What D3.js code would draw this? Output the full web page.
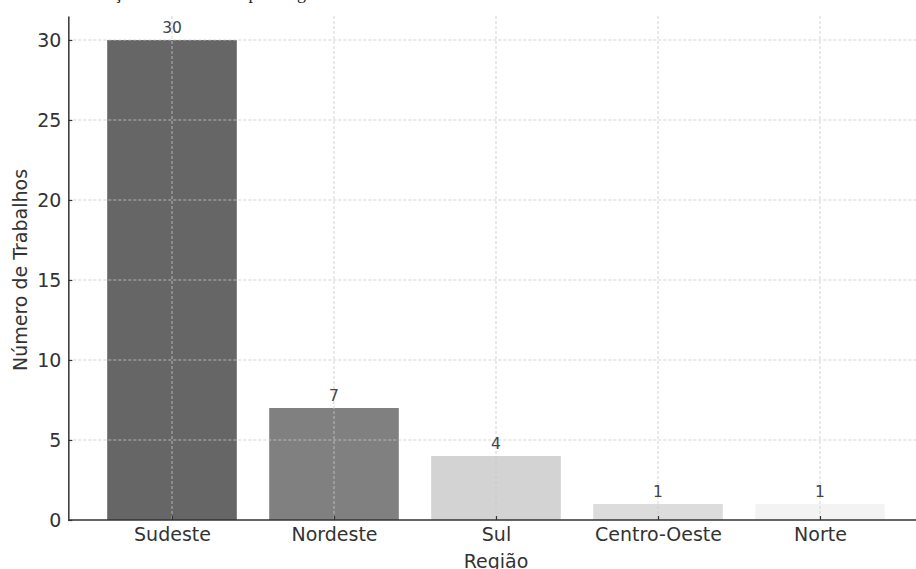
<!DOCTYPE html>
<html><head><meta charset="utf-8">
<script src="https://cdn.jsdelivr.net/npm/d3@7"></script>
<style>body{margin:0;background:#fff}svg{display:block}</style>
</head><body>
<svg id="c" width="916" height="569"></svg>
<script>
const categories = ["Sudeste","Nordeste","Sul","Centro-Oeste","Norte"];
const values = [30, 7, 4, 1, 1];
const barColors = ["#666666","#808080","#d3d3d3","#dcdcdc","#f3f3f3"];
const yTicks = [0,5,10,15,20,25,30];
const title = "Distribuição dos Trabalhos por Região";
const xLabel = "Região";
const yLabel = "Número de Trabalhos";

const svg = d3.select("#c");
const x0 = 172, step = 162;
const x = d3.scaleLinear().domain([-0.64, 4.64]).range([x0 - 0.64*step, x0 + 4.64*step]);
const y = d3.scaleLinear().domain([0, 31.5]).range([520, 16]);
const bw = 0.8*step;

// title (mostly cut off at top, as in the reference)
svg.append("text").attr("x", 50).attr("y", -1)
  .attr("font-family","Liberation Serif").attr("font-size",18).attr("fill","#222")
  .text(title);

// bars
svg.append("g").selectAll("rect").data(values).join("rect")
  .attr("x",(d,i)=>x(i)-bw/2).attr("width",bw)
  .attr("y",d=>y(d)).attr("height",d=>y(0)-y(d))
  .attr("fill",(d,i)=>barColors[i]);

// grid
const grid = svg.append("g").attr("stroke","#c8c8c8").attr("stroke-dasharray","3,2").attr("stroke-width",0.8);
grid.selectAll("line.h").data(yTicks.slice(1)).join("line").attr("class","h")
  .attr("x1",x(-0.64)).attr("x2",916).attr("y1",d=>y(d)).attr("y2",d=>y(d));
grid.selectAll("line.v").data(categories).join("line").attr("class","v")
  .attr("x1",(d,i)=>x(i)).attr("x2",(d,i)=>x(i)).attr("y1",y(31.5)).attr("y2",y(0));

// axes
const yAxis = svg.append("g").attr("transform",`translate(${x(-0.64)},0)`)
  .call(d3.axisLeft(y).tickValues(yTicks).tickSizeInner(-4).tickSizeOuter(0).tickPadding(7));
const xAxis = svg.append("g").attr("transform",`translate(0,${y(0)})`)
  .call(d3.axisBottom(x).tickValues(d3.range(categories.length)).tickFormat(i=>categories[i]).tickSizeInner(-4).tickSizeOuter(0).tickPadding(8));
xAxis.select(".domain").attr("d",`M${x(-0.64)},0H${x(4.64)}`);
[yAxis,xAxis].forEach(a=>{
  a.select(".domain").attr("stroke","#333").attr("stroke-width",1.5);
  a.selectAll(".tick line").attr("stroke","#333").attr("stroke-width",1.2);
  a.selectAll(".tick text").attr("font-family","DejaVu Sans").attr("font-size",19).attr("fill","#333");
});

// value labels
svg.append("g").selectAll("text").data(values).join("text")
  .attr("x",(d,i)=>x(i)).attr("y",d=>y(d)-7)
  .attr("text-anchor","middle").attr("font-family","DejaVu Sans").attr("font-size",15.5).attr("fill","#444")
  .text(d=>d);

// axis labels
svg.append("text").attr("x",x(2)).attr("y",568).attr("text-anchor","middle")
  .attr("font-family","DejaVu Sans").attr("font-size",19).attr("fill","#333").text(xLabel);
svg.append("text").attr("transform",`translate(27,${y(15.75)+2}) rotate(-90)`).attr("text-anchor","middle")
  .attr("font-family","DejaVu Sans").attr("font-size",19).attr("fill","#333").text(yLabel);
</script>
</body></html>
